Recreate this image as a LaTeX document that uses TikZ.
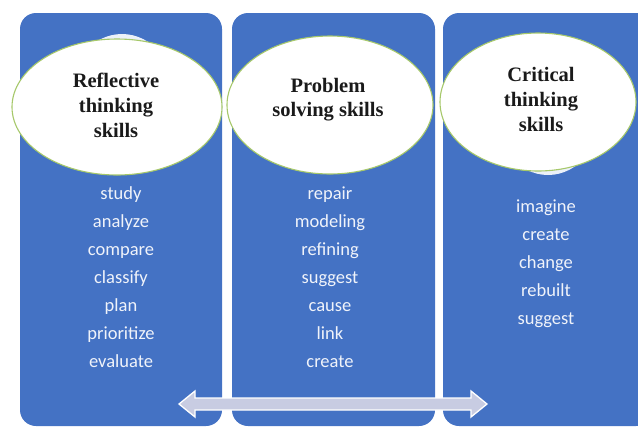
\documentclass[tikz,border=0pt]{standalone}
\usepackage{fontspec}
\setmainfont{Liberation Serif}
\newfontfamily\wordfont{Carlito}
\usetikzlibrary{shapes.geometric}
\definecolor{panelblue}{HTML}{4472C4}
\definecolor{rimgreen}{HTML}{A6C86A}
\definecolor{arrowfill}{HTML}{C8CCE2}
\definecolor{headink}{HTML}{1A1A1A}
\definecolor{wordink}{HTML}{F0F3FA}
\begin{document}
\begin{tikzpicture}[x=1bp,y=-1bp,
  panel/.style={fill=panelblue, rounded corners=16bp},
  bubble/.style={ellipse, draw=rimgreen, line width=1.1bp, fill=white, inner sep=0pt},
  ghost/.style={ellipse, fill=white!90!panelblue, inner sep=0pt},
  headline/.style={font=\bfseries\fontsize{20.5bp}{25bp}\selectfont, text=headink, anchor=base, inner sep=0pt},
  wordline/.style={font=\wordfont\fontsize{18.5bp}{28bp}\selectfont, text=wordink, anchor=base, inner sep=0pt},
  twoway/.style={fill=arrowfill, draw=white, line width=1.3bp, line join=miter}
  ]
\useasboundingbox (0,0) rectangle (638,428);

% three column panels
\fill[panel] (20,13) rectangle (222,426);
\fill[panel] (232,13) rectangle (435,426);
\fill[panel] (443,13) rectangle (652,426);

% faint second outline peeking behind the bubbles
\node[ghost, minimum width=110bp, minimum height=132bp] (g1) at (122,100) {};
\node[ghost, minimum width=110bp, minimum height=134bp] (g3) at (548,108) {};

% title bubbles
\node[bubble, minimum width=210bp, minimum height=136bp] (e1) at (117,107) {};
\node[bubble, minimum width=206bp, minimum height=138bp] (e2) at (330,105) {};
\node[bubble, minimum width=196bp, minimum height=138bp] (e3) at (538,102) {};

% bubble titles
\node[headline] (t1a) at (116,87) {Reflective};
\node[headline] (t1b) at (116,112) {thinking};
\node[headline] (t1c) at (116,137) {skills};
\node[headline] (t2a) at (328,92) {Problem};
\node[headline] (t2b) at (328,116) {solving skills};
\node[headline] (t3a) at (541,81) {Critical};
\node[headline] (t3b) at (541,106) {thinking};
\node[headline] (t3c) at (541,131) {skills};

% skill lists
\foreach \w [count=\i] in {study,analyze,compare,classify,plan,prioritize,evaluate}
  \node[wordline] (wa\i) at (121,{199+28*(\i-1)}) {\w};
\foreach \w [count=\i] in {repair,modeling,refining,suggest,cause,link,create}
  \node[wordline] (wb\i) at (330,{199+28*(\i-1)}) {\w};
\foreach \w [count=\i] in {imagine,create,change,rebuilt,suggest}
  \node[wordline] (wc\i) at (546,{212+28*(\i-1)}) {\w};

% two-way arrow across the bottom
\draw[twoway] (179,404) -- (195,391) -- (195,398) -- (471,398) -- (471,391)
  -- (487,404) -- (471,417) -- (471,410) -- (195,410) -- (195,417) -- cycle;
\end{tikzpicture}
\end{document}
